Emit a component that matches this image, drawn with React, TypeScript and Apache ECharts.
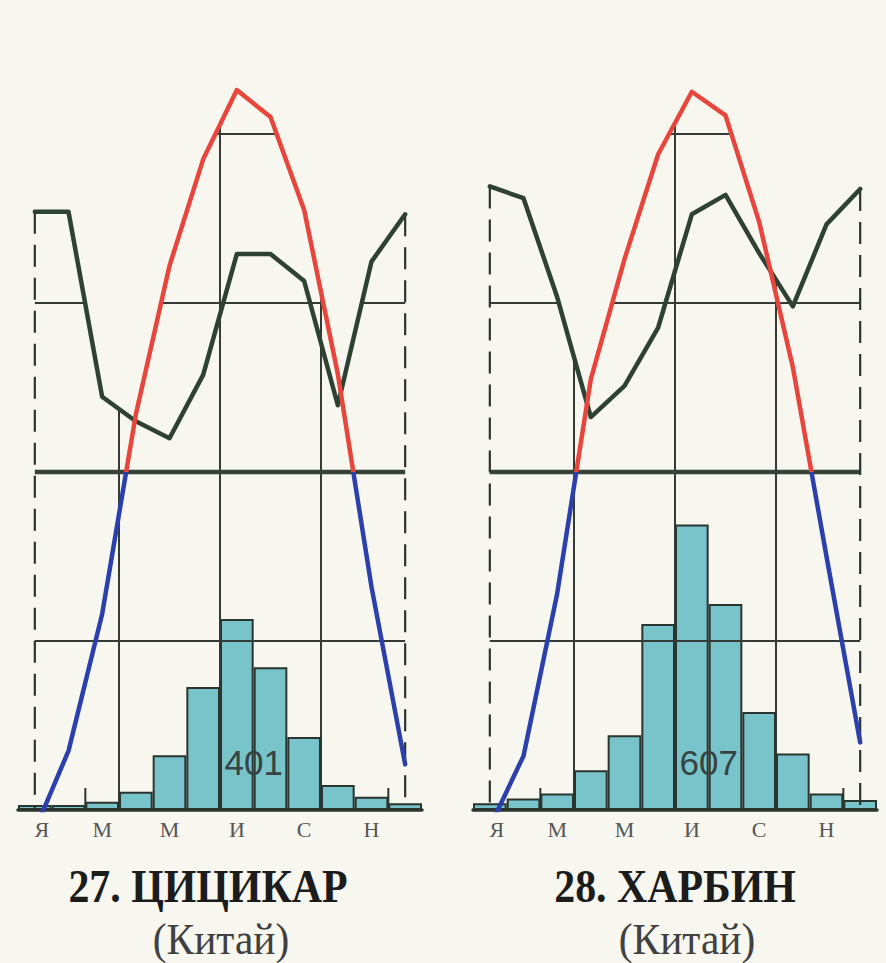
import React, { useEffect, useRef } from 'react';
import * as echarts from 'echarts';

// ---- data ----
const MONTHS = ['Я', 'Ф', 'М', 'А', 'М', 'И', 'И', 'А', 'С', 'О', 'Н', 'Д'];

const qiqiharTemp = [-21.2, -16.5, -8.4, 3.4, 12.2, 18.5, 22.6, 21.0, 15.5, 5.8, -6.8, -17.3];
const qiqiharHum = [80.8, 80.8, 58.9, 56.0, 54.0, 61.5, 75.8, 75.8, 72.6, 57.9, 74.9, 80.5];
const qiqiharPrec = [3, 3, 5, 11, 33, 74, 115, 86, 44, 15, 8, 4];

const harbinTemp = [-21.0, -16.8, -7.2, 5.5, 12.6, 18.8, 22.5, 21.1, 14.8, 6.2, -5.0, -16.0];
const harbinHum = [83.8, 82.4, 70.7, 56.5, 60.2, 67.1, 80.5, 82.8, 75.9, 69.6, 79.3, 83.5];
const harbinPrec = [4, 7, 10, 24, 45, 112, 172, 124, 59, 34, 10, 6];

const TEMP_GRID_LEVELS = [-10, 10, 20];
const TEMP_ZERO = 0;
const QUARTER_BOUNDARIES = [3, 6, 9]; // month boundaries with vertical gridlines
const BASE_TICKS = [2, 11]; // month boundaries with short ticks on the base line

const TITLES = ['27. ЦИЦИКАР', '28. ХАРБИН'];
const SUBTITLES = ['(Китай)', '(Китай)'];

// ---- axis ranges ----
const TEMP_MIN = -20;
const TEMP_MAX = 25;
const HUM_MIN = 10;
const HUM_MAX = 100;
const PREC_MAX = 458;

// ---- style / layout ----
const BG = '#f7f6ef';
const DARK = '#2b352f';
const GRID_C = '#343b36';
const GREEN = '#2d4233';
const RED = '#e8453c';
const BLUE = '#2c40ad';
const TEAL = '#79c3ca';
const GRID_TOP = 49.5;
const GRID_H = 760.5;
const GRID_W = 404;
const GRID_LEFTS = [18, 473];
const TITLE_DX = [-12, 0];
const SUB_DX = [1, 12];
const TICK_PX = 22;

const panels = [
  { temp: qiqiharTemp, hum: qiqiharHum, prec: qiqiharPrec },
  { temp: harbinTemp, hum: harbinHum, prec: harbinPrec },
];

function humToTemp(h: number) {
  return TEMP_MIN + ((h - HUM_MIN) * (TEMP_MAX - TEMP_MIN)) / (HUM_MAX - HUM_MIN);
}

// upper envelope of temperature and humidity curves (in temperature units)
function envelope(t: number[], h: number[]) {
  const e = h.map(humToTemp);
  const pts: number[][] = [];
  for (let i = 0; i < t.length; i++) {
    pts.push([i + 0.5, Math.max(t[i], e[i])]);
    if (i < t.length - 1) {
      const d0 = t[i] - e[i];
      const d1 = t[i + 1] - e[i + 1];
      if (d0 * d1 < 0) {
        const f = d0 / (d0 - d1);
        pts.push([i + 0.5 + f, t[i] + f * (t[i + 1] - t[i])]);
      }
    }
  }
  return pts;
}

function envAt(env: number[][], x: number) {
  for (let k = 0; k < env.length - 1; k++) {
    const [x0, y0] = env[k];
    const [x1, y1] = env[k + 1];
    if (x >= x0 && x <= x1) return y0 + ((x - x0) / (x1 - x0)) * (y1 - y0);
  }
  return env[env.length - 1][1];
}

// x-intervals where the envelope lies above a level
function intervalsAbove(env: number[][], lvl: number) {
  const out: number[][] = [];
  let start: number | null = env[0][1] >= lvl ? env[0][0] : null;
  for (let k = 0; k < env.length - 1; k++) {
    const [x0, y0] = env[k];
    const [x1, y1] = env[k + 1];
    if ((y0 - lvl) * (y1 - lvl) < 0) {
      const xc = x0 + ((lvl - y0) / (y1 - y0)) * (x1 - x0);
      if (start === null) start = xc;
      else {
        out.push([start, xc]);
        start = null;
      }
    }
  }
  if (start !== null) out.push([start, env[env.length - 1][0]]);
  return out;
}

function seg(xv: number, yi: number, data: number[][], lineStyle: any, z: number) {
  return {
    type: 'line',
    xAxisIndex: xv,
    yAxisIndex: yi,
    data,
    symbol: 'none',
    lineStyle,
    silent: true,
    clip: false,
    z,
  };
}

const LABEL_FONT = { fontFamily: 'Liberation Serif', fontSize: 22, color: '#555555' };

function buildOption() {
  const grid: any[] = [];
  const xAxis: any[] = [];
  const yAxis: any[] = [];
  const series: any[] = [];
  const tempIdx: number[] = [];
  const graphic: any[] = [];
  const tickLen = (TICK_PX * (TEMP_MAX - TEMP_MIN)) / GRID_H;

  panels.forEach((p, g) => {
    grid.push({ left: GRID_LEFTS[g], top: GRID_TOP, width: GRID_W, height: GRID_H });
    const xc = xAxis.length;
    xAxis.push({
      type: 'category',
      gridIndex: g,
      data: MONTHS,
      boundaryGap: true,
      axisLine: { show: true, onZero: false, lineStyle: { color: DARK, width: 3.5 } },
      axisTick: { show: false },
      splitLine: { show: false },
      axisLabel: {
        interval: 1,
        margin: 8,
        ...LABEL_FONT,
        formatter: (v: string, i: number) => (i === 0 ? '{first|' + v + '}' : v),
        rich: { first: { ...LABEL_FONT, padding: [0, 0, 0, 14] } },
      },
    });
    const xv = xAxis.length;
    xAxis.push({ type: 'value', gridIndex: g, min: 0, max: 12, show: false, splitLine: { show: false } });
    const yt = yAxis.length;
    yAxis.push({ type: 'value', gridIndex: g, min: TEMP_MIN, max: TEMP_MAX, show: false, splitLine: { show: false } });
    const yp = yAxis.length;
    yAxis.push({ type: 'value', gridIndex: g, min: 0, max: PREC_MAX, show: false, splitLine: { show: false } });
    const yh = yAxis.length;
    yAxis.push({ type: 'value', gridIndex: g, min: HUM_MIN, max: HUM_MAX, show: false, splitLine: { show: false } });

    const env = envelope(p.temp, p.hum);

    // vertical quarter gridlines, up to the upper curve
    QUARTER_BOUNDARIES.forEach((b) => {
      series.push(seg(xv, yt, [[b, TEMP_MIN], [b, envAt(env, b)]], { color: GRID_C, width: 2 }, 1));
    });

    // precipitation bars
    series.push({
      type: 'bar',
      xAxisIndex: xc,
      yAxisIndex: yp,
      data: p.prec,
      barWidth: '100%',
      itemStyle: { color: TEAL, borderColor: DARK, borderWidth: 2 },
      silent: true,
      z: 2,
    });

    // short ticks on the base line
    BASE_TICKS.forEach((b) => {
      series.push(seg(xv, yt, [[b, TEMP_MIN], [b, TEMP_MIN + tickLen]], { color: DARK, width: 2 }, 3));
    });

    // horizontal temperature gridlines, only below the upper curve
    TEMP_GRID_LEVELS.forEach((lvl) => {
      intervalsAbove(env, lvl).forEach(([a, b]) => {
        series.push(seg(xv, yt, [[a, lvl], [b, lvl]], { color: GRID_C, width: 2 }, 3));
      });
    });
    series.push(seg(xv, yt, [[0.5, TEMP_ZERO], [MONTHS.length - 0.5, TEMP_ZERO]], { color: '#344238', width: 4.5 }, 3));

    // dashed verticals at January and December
    [0, MONTHS.length - 1].forEach((i) => {
      series.push(seg(xv, yh, [[i + 0.5, p.hum[i]], [i + 0.5, HUM_MIN]], { color: DARK, width: 2.2, type: [22, 11] }, 5));
    });

    // humidity curve
    series.push({
      type: 'line',
      xAxisIndex: xc,
      yAxisIndex: yh,
      data: p.hum,
      symbol: 'none',
      lineStyle: { color: GREEN, width: 4.5, join: 'round', cap: 'round' },
      silent: true,
      z: 6,
    });

    // temperature curve
    tempIdx.push(series.length);
    series.push({
      type: 'line',
      xAxisIndex: xc,
      yAxisIndex: yt,
      data: p.temp,
      symbol: 'none',
      lineStyle: { width: 4.5, join: 'round', cap: 'round' },
      silent: true,
      z: 7,
    });

    // annual precipitation total
    const total = p.prec.reduce((a, b) => a + b, 0);
    graphic.push({
      type: 'text',
      x: GRID_LEFTS[g] + (GRID_W * 7) / 12,
      y: 762,
      z: 100,
      style: {
        text: String(total),
        fontFamily: 'Liberation Sans',
        fontSize: 35,
        fill: '#354342',
        textAlign: 'center',
        textVerticalAlign: 'middle',
      },
    });

    // titles
    const cx = GRID_LEFTS[g] + GRID_W / 2;
    graphic.push({
      type: 'text',
      x: cx + TITLE_DX[g],
      y: 887,
      scaleX: 0.91,
      z: 100,
      style: {
        text: TITLES[g],
        fontFamily: 'Liberation Serif',
        fontWeight: 'bold',
        fontSize: 46,
        fill: '#1c1c1c',
        textAlign: 'center',
        textVerticalAlign: 'middle',
      },
    });
    graphic.push({
      type: 'text',
      x: cx + SUB_DX[g],
      y: 938,
      scaleX: 0.92,
      z: 100,
      style: {
        text: SUBTITLES[g],
        fontFamily: 'Liberation Serif',
        fontSize: 45,
        fill: '#404040',
        textAlign: 'center',
        textVerticalAlign: 'middle',
      },
    });
  });

  return {
    animation: false,
    backgroundColor: BG,
    grid,
    xAxis,
    yAxis,
    series,
    graphic,
    visualMap: [
      {
        type: 'piecewise',
        show: false,
        seriesIndex: tempIdx,
        dimension: 1,
        pieces: [
          { gte: -100, lt: 0, color: BLUE },
          { gte: 0, lte: 100, color: RED },
        ],
        outOfRange: { color: BLUE },
      },
    ],
  };
}

export default function App() {
  const ref = useRef<HTMLDivElement>(null);
  useEffect(() => {
    const chart = echarts.init(ref.current as HTMLDivElement, null, { renderer: 'svg' });
    chart.setOption(buildOption() as any);
    return () => chart.dispose();
  }, []);
  return (
    <div
      ref={ref}
      style={{ position: 'fixed', left: 0, top: 0, width: 886, height: 963, background: BG }}
    />
  );
}
